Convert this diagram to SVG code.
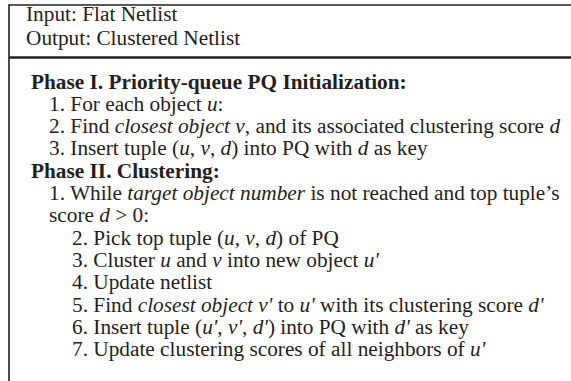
<svg xmlns="http://www.w3.org/2000/svg" width="571" height="381" viewBox="0 0 571 381">
<style>
.t{font-family:"Liberation Serif","Times New Roman",serif;font-size:21.3px;fill:#231f20}
.b{font-weight:bold}
.i{font-style:italic}
.ln{stroke:#231f20;fill:none}
</style>
<rect x="0" y="0" width="571" height="381" fill="#ffffff"/>
<g id="frame" class="ln">
<line x1="9" y1="5" x2="571" y2="5" stroke-width="1.6"/>
<line x1="9" y1="4.2" x2="9" y2="381" stroke-width="1.6"/>
<line x1="9" y1="57.5" x2="571" y2="57.5" stroke-width="2.4"/>
</g>
<g id="io" class="t">
<text x="26" y="20.8">Input: Flat Netlist</text>
<text x="26" y="44.6">Output: Clustered Netlist</text>
</g>
<g id="phase1" class="t">
<text class="b" x="31" y="88.5">Phase I. Priority-queue PQ Initialization:</text>
<text x="49" y="110.8">1. For each object <tspan class="i">u</tspan>:</text>
<text x="49" y="133.1">2. Find <tspan class="i">closest object v</tspan>, and its associated clustering score <tspan class="i">d</tspan></text>
<text x="49" y="155.4">3. Insert tuple (<tspan class="i">u</tspan>, <tspan class="i">v</tspan>, <tspan class="i">d</tspan>) into PQ with <tspan class="i">d</tspan> as key</text>
</g>
<g id="phase2" class="t">
<text class="b" x="31" y="177.7">Phase II. Clustering:</text>
<text x="49" y="200">1. While <tspan class="i">target object number</tspan> is not reached and top tuple’s</text>
<text x="49" y="222.3">score <tspan class="i">d</tspan> &gt; 0:</text>
<text x="72" y="244.6">2. Pick top tuple (<tspan class="i">u</tspan>, <tspan class="i">v</tspan>, <tspan class="i">d</tspan>) of PQ</text>
<text x="72" y="266.9">3. Cluster <tspan class="i">u</tspan> and <tspan class="i">v</tspan> into new object <tspan class="i">u'</tspan></text>
<text x="72" y="289.2">4. Update netlist</text>
<text x="72" y="311.5">5. Find <tspan class="i">closest object v'</tspan> to <tspan class="i">u'</tspan> with its clustering score <tspan class="i">d'</tspan></text>
<text x="72" y="333.8">6. Insert tuple (<tspan class="i">u'</tspan>, <tspan class="i">v'</tspan>, <tspan class="i">d'</tspan>) into PQ with <tspan class="i">d'</tspan> as key</text>
<text x="72" y="356.1">7. Update clustering scores of all neighbors of <tspan class="i">u'</tspan></text>
</g>
</svg>
